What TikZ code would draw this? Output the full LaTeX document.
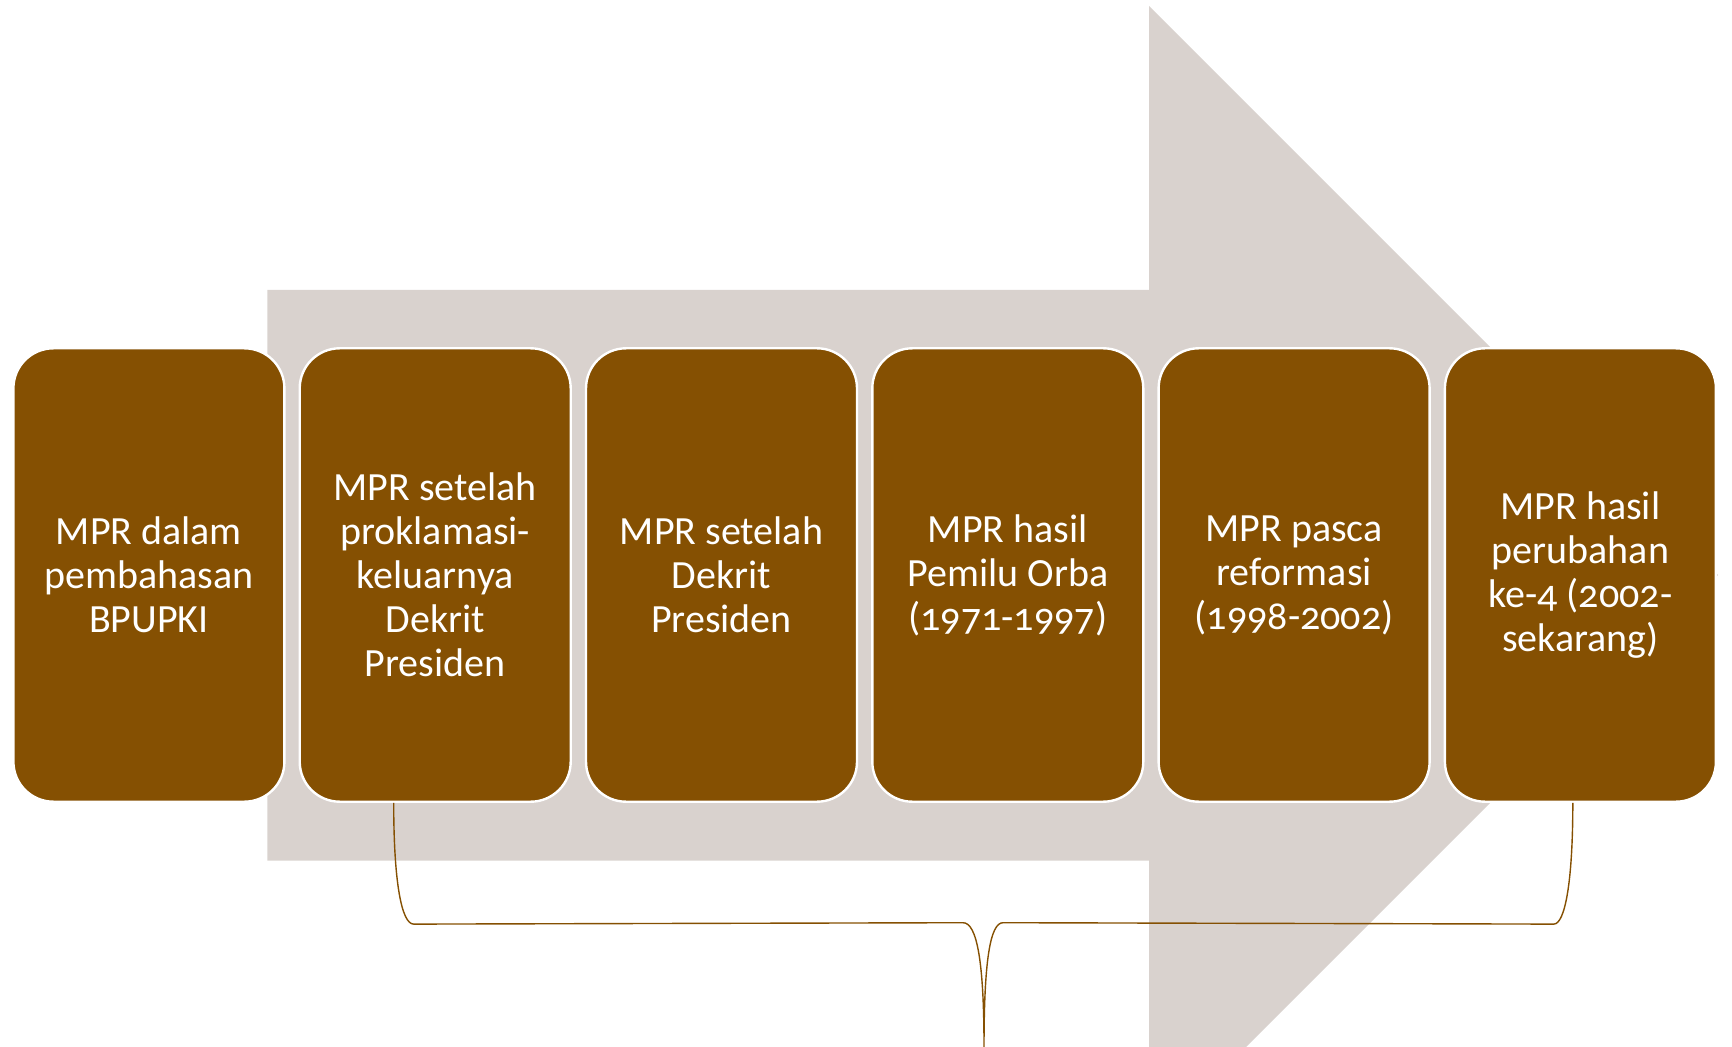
\documentclass[tikz,border=0pt]{standalone}
\usepackage{fontspec}
\setmainfont{Carlito}[Numbers=OldStyle]
\usetikzlibrary{calc}
\definecolor{boxbrown}{RGB}{133,80,2}
\definecolor{arrowgray}{RGB}{217,210,206}
\tikzset{
  stage/.style={rectangle, rounded corners=20pt, fill=boxbrown, draw=white,
    line width=1.2pt, minimum width=135.5pt, minimum height=226.7pt,
    text=white, align=center, inner sep=0pt,
    font=\fontsize{20pt}{22pt}\selectfont},
  bracket/.style={draw=boxbrown, line width=0.7pt},
  bigarrow/.style={fill=arrowgray}
}
\begin{document}
\begin{tikzpicture}[x=0.5pt,y=-0.5pt]
\useasboundingbox (0,0) rectangle (1732,1047);
\begin{scope}
  \clip (0,0) rectangle (1732,1047);
  \fill[bigarrow] (267.3,290) -- (1149,290) -- (1149,6) -- (1718,575)
    -- (1149,1144) -- (1149,860.5) -- (267.3,860.5) -- cycle;
\end{scope}
\node[stage] (b1) at (148.9,575) {MPR dalam\\pembahasan\\BPUPKI};
\node[stage] (b2) at (435.2,575) {MPR setelah\\proklamasi-\\keluarnya\\Dekrit\\Presiden};
\node[stage] (b3) at (721.5,575) {MPR setelah\\Dekrit\\Presiden};
\node[stage] (b4) at (1007.8,575) {MPR hasil\\Pemilu Orba\\(1971-1997)};
\node[stage] (b5) at (1294.1,575) {MPR pasca\\reformasi\\(1998-2002)};
\node[stage] (b6) at (1580.4,575) {MPR hasil\\perubahan\\ke-4 (2002-\\sekarang)};
\path (b2.south) ++(-41.5,0) coordinate (bl);
\path (b6.south) ++(-7.6,0) coordinate (br);
\coordinate (tip) at (984,1047);
\draw[bracket] (bl) .. controls ($(bl)+(0,80)$) and ($(bl)+(8,121.2)$) .. ($(bl)+(20,121.2)$)
  -- ($(tip)+(-21,-124.3)$) .. controls ($(tip)+(-7,-124.3)$) and ($(tip)+(0,-85)$) .. (tip)
  .. controls ($(tip)+(0,-85)$) and ($(tip)+(6,-124.3)$) .. ($(tip)+(19,-124.3)$)
  -- ($(br)+(-19,121.2)$) .. controls ($(br)+(-8,121.2)$) and ($(br)+(0,80)$) .. (br);
\end{tikzpicture}
\end{document}
